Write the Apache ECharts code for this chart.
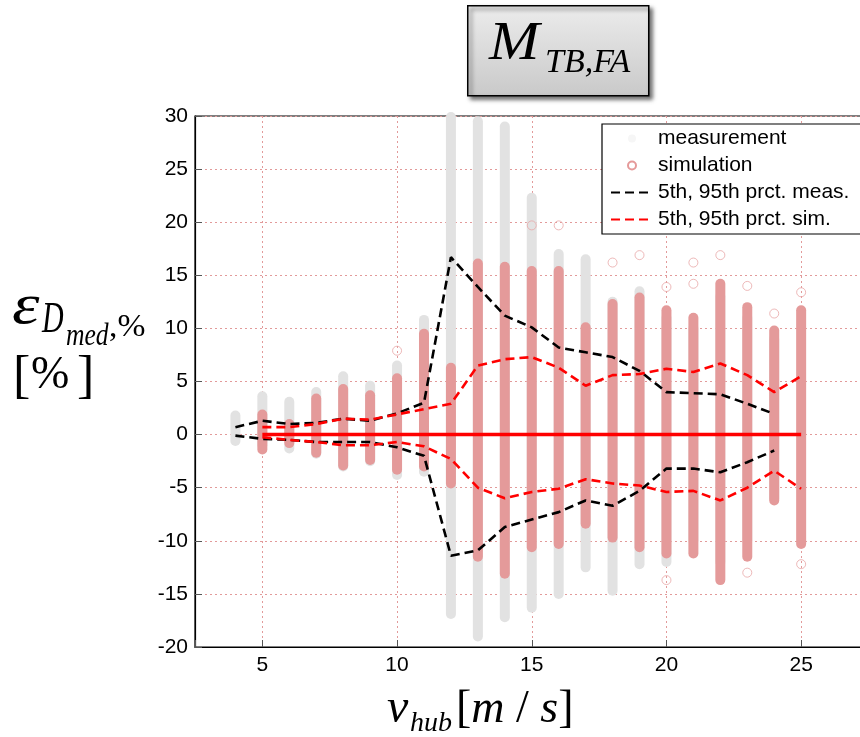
<!DOCTYPE html>
<html>
<head>
<meta charset="utf-8">
<script src="https://cdn.jsdelivr.net/npm/echarts@6/dist/echarts.min.js"></script>
<style>
html,body{margin:0;padding:0;background:#fff;}
#chart{width:860px;height:737px;}
</style>
</head>
<body>
<div id="chart"></div>
<script>
// ---- data ----
const measX    = [4, 5, 6, 7, 8, 9, 10, 11, 12, 13, 14, 15, 16, 17, 18, 19, 20, 21, 22, 23, 24];
const measLow  = [-0.6, -1.0, -1.3, -1.8, -3.0, -2.5, -3.8, -3.5, -16.9, -19.0, -17.2, -16.3, -15.0, -12.5, -14.7, -12.2, -12.0, -10.0, -12.0, -10.0, -6.0];
const measHigh = [1.8, 3.6, 3.1, 4.0, 5.5, 4.6, 6.5, 10.8, 29.9, 29.5, 29.0, 22.3, 17.0, 16.5, 12.5, 13.5, 11.0, 10.0, 13.0, 11.0, 9.0];

const simX    = [5, 6, 7, 8, 9, 10, 11, 12, 13, 14, 15, 16, 17, 18, 19, 20, 21, 22, 23, 24, 25];
const simLow  = [-1.4, -0.8, -1.7, -2.9, -2.4, -3.3, -3.0, -4.6, -11.5, -13.1, -10.6, -10.3, -8.4, -9.7, -10.6, -11.2, -11.2, -13.7, -11.5, -6.2, -10.3];
const simHigh = [1.9, 1.0, 3.4, 4.3, 3.7, 5.3, 9.5, 6.3, 16.1, 15.8, 15.4, 15.4, 10.1, 12.3, 12.9, 11.7, 11.0, 14.2, 12.0, 9.8, 11.7];

const simOutX = [10, 15, 16, 18, 19, 20, 20, 21, 21, 22, 23, 23, 24, 25, 25];
const simOutY = [7.9, 19.7, 19.7, 16.2, 16.9, 13.9, -13.7, 16.2, 14.2, 16.9, 14.0, -13.0, 11.4, 13.4, -12.2];

const measP95 = [0.7, 1.3, 1.0, 1.1, 1.5, 1.3, 2.0, 3.0, 16.7, 13.9, 11.2, 10.1, 8.2, 7.75, 7.3, 6.0, 4.0, 3.9, 3.8, 2.9, 1.95];
const measP5  = [-0.1, -0.4, -0.5, -0.7, -0.7, -0.7, -1.2, -2.0, -11.4, -10.9, -8.7, -8.0, -7.3, -6.2, -6.7, -5.3, -3.2, -3.2, -3.55, -2.6, -1.5];
const simP95  = [0.7, 0.7, 1.0, 1.5, 1.4, 1.9, 2.4, 2.9, 6.5, 7.1, 7.3, 6.3, 4.6, 5.6, 5.7, 6.2, 5.9, 6.7, 5.6, 4.0, 5.5];
const simP5   = [-0.25, -0.5, -0.7, -1.0, -1.0, -0.7, -1.1, -2.3, -5.0, -6.0, -5.4, -5.1, -4.2, -4.6, -4.8, -5.4, -5.3, -6.2, -5.0, -3.4, -5.1];
const simMedian = [0, 0, 0, 0, 0, 0, 0, 0, 0, 0, 0, 0, 0, 0, 0, 0, 0, 0, 0, 0, 0];

const xTicks = [5, 10, 15, 20, 25];
const yTicks = [-20, -15, -10, -5, 0, 5, 10, 15, 20, 25, 30];

const legendNames = ['measurement', 'simulation', '5th, 95th prct. meas.', '5th, 95th prct. sim.'];

// ---- chart ----
const chart = echarts.init(document.getElementById('chart'), null, {renderer: 'canvas'});

function columnRenderer(color, width) {
  return function (params, api) {
    const x = api.value(0);
    const p1 = api.coord([x, api.value(1)]);
    const p2 = api.coord([x, api.value(2)]);
    return {
      type: 'line',
      shape: {x1: p1[0], y1: p1[1], x2: p2[0], y2: p2[1]},
      style: {stroke: color, lineWidth: width, lineCap: 'round'}
    };
  };
}

const pair = (xs, ys) => xs.map((x, i) => [x, ys[i]]);
const SERIF = "'Liberation Serif', 'DejaVu Serif', serif";
const SANS = "'Liberation Sans', Arial, sans-serif";

function label(text, x, y, font, scaleX) {
  return {
    type: 'text', z: 11, x: x, y: y, scaleX: scaleX || 1,
    style: {text: text, x: 0, y: 0, font: font, fill: '#000', verticalAlign: 'middle'}
  };
}

const dashedLegendStyle = {color: 'rgba(0,0,0,0)', borderWidth: 0};

const option = {
  backgroundColor: '#fff',
  animation: false,
  grid: {
    left: 195, top: 116, bottom: 90, right: -8.5,
    outerBoundsMode: 'none', containLabel: false,
    show: true, borderColor: '#000', borderWidth: 1.2, backgroundColor: 'transparent'
  },
  xAxis: {
    type: 'value', min: 2.5, max: 27.5, splitNumber: 5,
    axisLine: {show: true, onZero: false, lineStyle: {color: '#000', width: 1.2}},
    axisTick: {show: true, inside: true, length: 7, lineStyle: {color: '#555'}},
    axisLabel: {
      fontFamily: SANS, fontSize: 21, color: '#000', margin: 8,
      formatter: v => (xTicks.indexOf(v) >= 0 ? String(v) : '')
    },
    splitLine: {show: true, lineStyle: {color: '#e29a9a', type: [2, 3], width: 1}}
  },
  yAxis: {
    type: 'value', min: yTicks[0], max: yTicks[yTicks.length - 1], interval: 5,
    axisLine: {show: true, onZero: false, lineStyle: {color: '#000', width: 1.2}},
    axisTick: {show: true, inside: true, length: 7, lineStyle: {color: '#555'}},
    axisLabel: {fontFamily: SANS, fontSize: 21, color: '#000', margin: 7},
    splitLine: {show: true, lineStyle: {color: '#e29a9a', type: [2, 3], width: 1}}
  },
  legend: {
    orient: 'vertical', left: 602, top: 124,
    itemWidth: 42, itemHeight: 8, itemGap: 6,
    padding: [4, 30, 4, 8],
    borderColor: '#000', borderWidth: 1.2, backgroundColor: '#fff',
    textStyle: {fontFamily: SANS, fontSize: 21, color: '#000', lineHeight: 21},
    selectedMode: false,
    data: [
      {name: legendNames[0], icon: 'circle', itemStyle: {color: '#f6f6f6'}},
      {name: legendNames[1], icon: 'emptyCircle', itemStyle: {color: '#e59a9a', borderColor: '#e59a9a', borderWidth: 1.2}},
      {name: legendNames[2], itemStyle: dashedLegendStyle},
      {name: legendNames[3], itemStyle: dashedLegendStyle}
    ]
  },
  series: [
    {
      name: legendNames[0], type: 'custom', z: 1,
      renderItem: columnRenderer('#e2e2e2', 10),
      encode: {x: 0, y: [1, 2]},
      data: measX.map((x, i) => [x, measLow[i], measHigh[i]]),
      itemStyle: {color: '#e2e2e2'}
    },
    {
      name: legendNames[1], type: 'custom', z: 2,
      renderItem: columnRenderer('#e49a9a', 10),
      encode: {x: 0, y: [1, 2]},
      data: simX.map((x, i) => [x, simLow[i], simHigh[i]]),
      itemStyle: {color: '#e49a9a'}
    },
    {
      name: 'sim outliers', type: 'scatter', z: 3,
      symbol: 'circle', symbolSize: 9,
      itemStyle: {color: 'rgba(0,0,0,0)', borderColor: '#e8a8a8', borderWidth: 1},
      data: pair(simOutX, simOutY)
    },
    {
      name: legendNames[2], type: 'line', z: 5, symbol: 'none',
      lineStyle: {color: '#000', width: 2.6, type: [9, 5]},
      itemStyle: {color: '#000'},
      data: pair(measX, measP95)
    },
    {
      name: legendNames[2], type: 'line', z: 5, symbol: 'none',
      lineStyle: {color: '#000', width: 2.6, type: [9, 5]},
      itemStyle: {color: '#000'},
      data: pair(measX, measP5)
    },
    {
      name: legendNames[3], type: 'line', z: 5, symbol: 'none',
      lineStyle: {color: '#ff0000', width: 2.6, type: [9, 5]},
      itemStyle: {color: '#ff0000'},
      data: pair(simX, simP95)
    },
    {
      name: legendNames[3], type: 'line', z: 5, symbol: 'none',
      lineStyle: {color: '#ff0000', width: 2.6, type: [9, 5]},
      itemStyle: {color: '#ff0000'},
      data: pair(simX, simP5)
    },
    {
      name: 'median', type: 'line', z: 6, symbol: 'none',
      lineStyle: {color: '#ff0000', width: 3.5},
      data: pair(simX, simMedian)
    }
  ],
  graphic: [
    // title box
    {
      type: 'rect', left: 467, top: 5, z: 10,
      shape: {width: 181, height: 90},
      style: {
        fill: new echarts.graphic.LinearGradient(0, 0, 0, 1, [
          {offset: 0, color: '#ececec'}, {offset: 1, color: '#c9c9c9'}
        ]),
        stroke: '#000', lineWidth: 1.5,
        shadowBlur: 4, shadowOffsetX: 3, shadowOffsetY: 3, shadowColor: 'rgba(0,0,0,0.55)'
      }
    },
    label('M', 489, 45, 'italic 54px ' + SERIF, 1.12),
    label('TB,FA', 545, 63, 'italic 34px ' + SERIF, 1.0),
    // y-axis label
    label('ε', 12, 308, 'italic 58px ' + SERIF, 1.2),
    label('D', 42, 320, 'italic 44px ' + SERIF, 0.68),
    label('med', 66, 337, 'italic 32px ' + SERIF, 0.8),
    label(',%', 109, 328, '32px ' + SERIF, 1.05),
    label('[', 13, 378, '52px ' + SERIF, 1),
    label('%', 31, 376, '46px ' + SERIF, 1),
    label(']', 77, 378, '52px ' + SERIF, 1),
    // x-axis label
    label('v', 387, 709, 'italic 48px ' + SERIF, 1),
    label('hub', 410, 724, 'italic 28px ' + SERIF, 1),
    {
      type: 'text', z: 11, x: 456, y: 710,
      style: {
        text: '{a|[}{b|m}{a| / }{b|s}{a|]}', x: 0, y: 0, verticalAlign: 'middle',
        rich: {
          a: {fontFamily: SERIF, fontSize: 46, color: '#000'},
          b: {fontFamily: SERIF, fontSize: 46, fontStyle: 'italic', color: '#000'}
        }
      }
    }
  ]
};

chart.setOption(option);
</script>
</body>
</html>
